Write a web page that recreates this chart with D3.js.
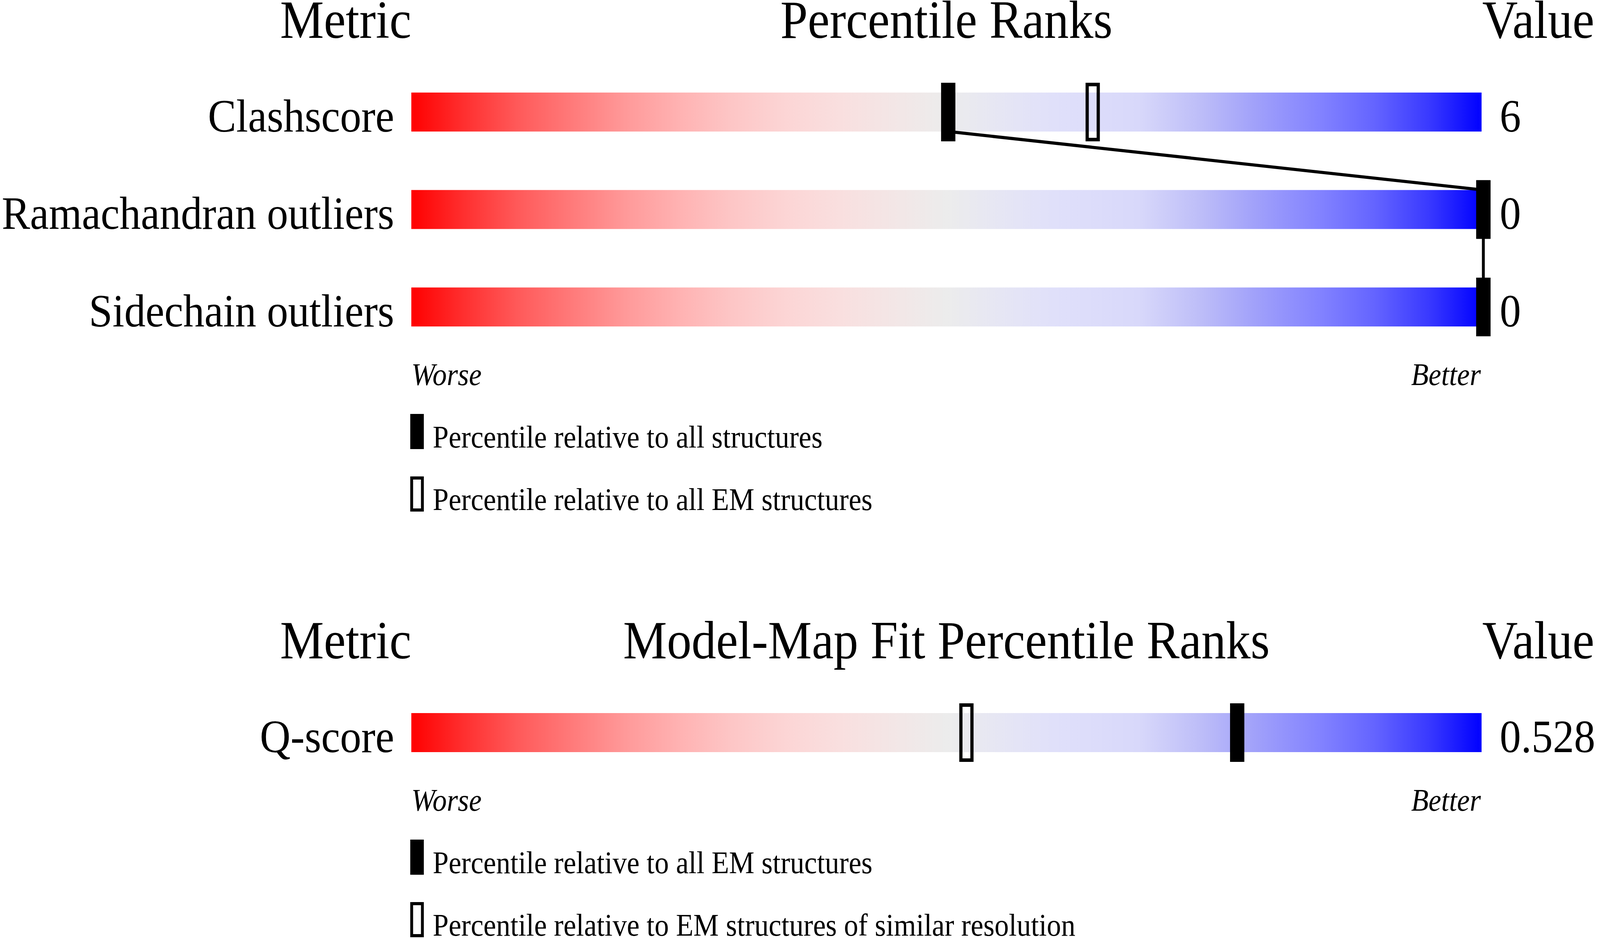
<!DOCTYPE html>
<html>
<head>
<meta charset="utf-8">
<script src="https://cdn.jsdelivr.net/npm/d3@7"></script>
<style>
  html, body { margin: 0; padding: 0; background: #fff; overflow: hidden; }
  #wrapper svg { display: block; width: 100vw; height: 100vh; }
  svg text { font-family: "Liberation Serif", "Times New Roman", serif; fill: #000; }
</style>
</head>
<body>
<div id="wrapper"></div>
<script>
// geometry checks
const metrics = ["Clashscore", "Ramachandran outliers", "Sidechain outliers"];
const metricValues = ["6", "0", "0"];
const pctAll = [50, 100, 100];      // filled marker
const pctEM = [63.5, 100, 100];     // open marker

// model-map fit
const fitMetrics = ["Q-score"];
const fitValues = ["0.528"];
const fitPctEM = [77];              // filled marker
const fitPctRes = [51.7];           // open marker

const topHeaders = ["Metric", "Percentile Ranks", "Value"];
const fitHeaders = ["Metric", "Model-Map Fit Percentile Ranks", "Value"];
const topLegend = ["Percentile relative to all structures", "Percentile relative to all EM structures"];
const fitLegend = ["Percentile relative to all EM structures", "Percentile relative to EM structures of similar resolution"];

const gradStops = [
  [0, "#ff0000"], [0.05, "#ff3030"], [0.1, "#ff5a5a"], [0.15, "#ff7a7a"],
  [0.2, "#ff9999"], [0.25, "#ffb2b2"], [0.3, "#fdc6c6"], [0.35, "#fcd5d5"],
  [0.4, "#f9dfdf"], [0.45, "#f3e6e6"], [0.5, "#ececec"], [0.55, "#e6e6f4"],
  [0.6, "#e0e0fa"], [0.68, "#d8d8fa"], [0.74, "#bcbcf8"], [0.79, "#a0a0fa"],
  [0.85, "#8282ff"], [0.9, "#6464ff"], [0.95, "#3a3aff"], [1, "#0000ff"]
];

const dimensions = {
  width: 4485,
  height: 2402,
  barLeft: 1153,
  barRight: 4153,
  barH: 100,
  markW: 40,
  markH: 150,
  markShift: 5
}

const svg = d3.select("#wrapper").append("svg")
  .attr("viewBox", `0 0 ${dimensions.width} ${dimensions.height}`)
  .attr("preserveAspectRatio", "none");

const grad = svg.append("defs").append("linearGradient")
  .attr("id", "slider").attr("x1", "0%").attr("x2", "100%").attr("y1", "0%").attr("y2", "0%");
grad.selectAll("stop").data(gradStops).join("stop")
  .attr("offset", d => d[0])
  .attr("stop-color", d => d[1]);

const xScale = d3.scaleLinear().domain([0, 100]).range([dimensions.barLeft, dimensions.barRight]);
const markX = p => xScale(p) + dimensions.markShift;

function panel(opt) {
  const g = svg.append("g");
  const yScale = d3.scaleBand()
    .domain(opt.names)
    .range(opt.yRange)
    .paddingInner(opt.names.length > 1 ? 0.6 : 0);
  const bw = yScale.bandwidth();

  // headers
  g.append("text").attr("x", dimensions.barLeft).attr("y", opt.headerY)
    .attr("text-anchor", "end").attr("font-size", 138).text(opt.headers[0]);
  g.append("text").attr("x", (dimensions.barLeft + dimensions.barRight) / 2).attr("y", opt.headerY)
    .attr("text-anchor", "middle").attr("font-size", 138).text(opt.headers[1]);
  g.append("text").attr("x", dimensions.barRight + 2).attr("y", opt.headerY)
    .attr("font-size", 138).text(opt.headers[2]);

  // bars
  g.selectAll("rect.bar").data(opt.names).join("rect")
    .attr("class", "bar")
    .attr("x", dimensions.barLeft)
    .attr("y", d => yScale(d))
    .attr("width", dimensions.barRight - dimensions.barLeft)
    .attr("height", bw)
    .attr("fill", "url(#slider)");

  // labels & values
  g.selectAll("text.lab").data(opt.names).join("text")
    .attr("class", "lab")
    .attr("x", dimensions.barLeft - 48)
    .attr("y", d => yScale(d) + bw)
    .attr("text-anchor", "end").attr("font-size", 119)
    .text(d => d);
  g.selectAll("text.val").data(opt.values).join("text")
    .attr("class", "val")
    .attr("x", dimensions.barRight + 51)
    .attr("y", (d, i) => yScale(opt.names[i]) + bw)
    .attr("font-size", 119)
    .text(d => d);

  const ext = (dimensions.markH - bw) / 2;

  // open markers
  g.selectAll("rect.open").data(opt.open).join("rect")
    .attr("class", "open")
    .attr("x", d => markX(d) - dimensions.markW / 2 + 4.5)
    .attr("y", (d, i) => yScale(opt.names[i]) - ext + 4.5)
    .attr("width", dimensions.markW - 9)
    .attr("height", dimensions.markH - 9)
    .attr("fill", "none")
    .attr("stroke", "#000")
    .attr("stroke-width", 9);

  // connecting line between filled markers
  if (opt.names.length > 1) {
    const pts = [];
    opt.filled.forEach((p, i) => {
      const top = yScale(opt.names[i]);
      if (i > 0) pts.push([markX(p), top]);
      if (i < opt.filled.length - 1) pts.push([markX(p), top + bw]);
    });
    g.append("path")
      .attr("d", d3.line()(pts))
      .attr("fill", "none")
      .attr("stroke", "#000")
      .attr("stroke-width", 8);
  }

  // filled markers
  g.selectAll("rect.filled").data(opt.filled).join("rect")
    .attr("class", "filled")
    .attr("x", d => markX(d) - dimensions.markW / 2)
    .attr("y", (d, i) => yScale(opt.names[i]) - ext)
    .attr("width", dimensions.markW)
    .attr("height", dimensions.markH)
    .attr("fill", "#000");

  // worse / better
  const lastBottom = yScale(opt.names[opt.names.length - 1]) + bw;
  const wbY = lastBottom + 150;
  g.append("text").attr("x", dimensions.barLeft).attr("y", wbY)
    .attr("font-size", 80).attr("font-style", "italic").text("Worse");
  g.append("text").attr("x", dimensions.barRight - 2).attr("y", wbY)
    .attr("text-anchor", "end").attr("font-size", 80).attr("font-style", "italic").text("Better");

  // legend
  const legY = d => wbY + 74 + d * 160;
  const leg = g.selectAll("g.leg").data(opt.legend).join("g").attr("class", "leg");
  leg.append("rect")
    .attr("x", (d, i) => i === 0 ? 1150 : 1150 + 4)
    .attr("y", (d, i) => i === 0 ? legY(i) : legY(i) + 4)
    .attr("width", (d, i) => i === 0 ? 38 : 30)
    .attr("height", (d, i) => i === 0 ? 90 : 82)
    .attr("fill", (d, i) => i === 0 ? "#000" : "none")
    .attr("stroke", (d, i) => i === 0 ? "none" : "#000")
    .attr("stroke-width", 8);
  leg.append("text")
    .attr("x", 1213)
    .attr("y", (d, i) => legY(i) + 86)
    .attr("font-size", 80)
    .text(d => d);
}

panel({
  names: metrics, values: metricValues, filled: pctAll, open: pctEM,
  headers: topHeaders, legend: topLegend, headerY: 97, yRange: [237, 836]
});
panel({
  names: fitMetrics, values: fitValues, filled: fitPctEM, open: fitPctRes,
  headers: fitHeaders, legend: fitLegend, headerY: 1686, yRange: [1826, 1926]
});
</script>
</body>
</html>
